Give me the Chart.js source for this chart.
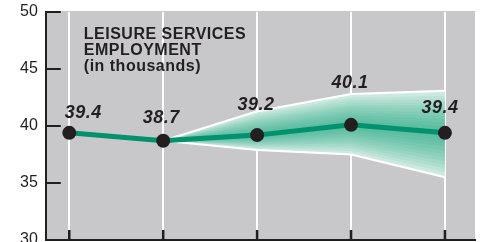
<!DOCTYPE html>
<html><head><meta charset="utf-8">
<script src="https://cdn.jsdelivr.net/npm/chart.js@4.4.1/dist/chart.umd.min.js"></script>
<style>html,body{margin:0;padding:0;background:#fff;overflow:hidden;width:484px;height:242px}canvas{display:block;margin-top:-4px}</style>
</head><body>
<canvas id="c" width="484" height="262"></canvas>
<script>
// ---- data ----
const periods = ['P1', 'P2', 'P3', 'P4', 'P5'];
const employment = [39.4, 38.7, 39.2, 40.1, 39.4];
const fanUpper = [null, 38.7, 41.3, 42.8, 43.1];
const fanLower = [null, 38.7, 37.9, 37.5, 35.5];
const yTicks = [30, 35, 40, 45, 50];
const titleLines = ['LEISURE SERVICES', 'EMPLOYMENT', '(in thousands)'];
// label placement (style)
const labelDx = [14, -2, -1, -1, -5];
const labelDy = [-15, -18, -25, -37, -20];

const INK = '#231f20';
const FONT = '"Liberation Sans", Arial, Helvetica, sans-serif';
Chart.defaults.font.family = FONT;

const toPts = arr => arr.map((v, i) => ({x: i, y: v})).filter(p => p.y !== null);

const decor = {
  id: 'decor',
  beforeDraw(chart) {
    const {ctx, chartArea: a} = chart;
    ctx.save();
    ctx.fillStyle = '#c8c8ca';
    ctx.fillRect(a.left, a.top - 1, a.right - a.left, a.bottom - a.top + 1);
    ctx.restore();
  },
  beforeDatasetsDraw(chart) {
    const {ctx, chartArea: a} = chart;
    const xs = chart.scales.x, ys = chart.scales.y;
    const idx = fanUpper.map((v, i) => v === null ? -1 : i).filter(i => i >= 0);
    const N = 12;
    ctx.save();
    ctx.beginPath(); ctx.rect(a.left, a.top, a.right - a.left, a.bottom - a.top); ctx.clip();
    for (let k = 1; k <= N; k++) {
      const t = (k / N) * 0.96;
      ctx.beginPath();
      idx.forEach((i, j) => {
        const x = xs.getPixelForValue(i), yc = ys.getPixelForValue(employment[i]);
        const y = yc + t * (ys.getPixelForValue(fanUpper[i]) - yc);
        j ? ctx.lineTo(x, y) : ctx.moveTo(x, y);
      });
      for (let j = idx.length - 1; j >= 0; j--) {
        const i = idx[j];
        const x = xs.getPixelForValue(i), yc = ys.getPixelForValue(employment[i]);
        ctx.lineTo(x, yc + t * (ys.getPixelForValue(fanLower[i]) - yc));
      }
      ctx.closePath();
      ctx.fillStyle = 'rgba(0,150,112,0.07)';
      ctx.fill();
    }
    ctx.restore();
  },
  afterDraw(chart) {
    const {ctx, chartArea: a} = chart;
    const xs = chart.scales.x, ys = chart.scales.y;
    ctx.save();
    ctx.strokeStyle = INK;
    ctx.lineWidth = 2;
    yTicks.forEach(v => {
      if (v === yTicks[0]) return;
      const y = Math.round(ys.getPixelForValue(v));
      ctx.beginPath(); ctx.moveTo(a.left, y); ctx.lineTo(a.left + 15, y); ctx.stroke();
    });
    ctx.lineWidth = 2.5;
    periods.forEach((_, i) => {
      const x = xs.getPixelForValue(i);
      ctx.beginPath(); ctx.moveTo(x, a.bottom - 10); ctx.lineTo(x, a.bottom); ctx.stroke();
    });
    // title
    ctx.fillStyle = INK;
    ctx.textAlign = 'left';
    ctx.textBaseline = 'alphabetic';
    ctx.font = 'bold 16px ' + FONT;
    try { ctx.letterSpacing = '0.5px'; } catch (e) {}
    const tb = [27, 43, 58.5];
    titleLines.forEach((s, i) => ctx.fillText(s, a.left + 38, a.top + tb[i]));
    // value labels
    ctx.font = 'italic bold 18px ' + FONT;
    ctx.textAlign = 'center';
    const meta = chart.getDatasetMeta(0);
    meta.data.forEach((el, i) => {
      ctx.fillText(employment[i].toFixed(1), el.x + labelDx[i], el.y + labelDy[i]);
    });
    ctx.restore();
  }
};

new Chart(document.getElementById('c'), {
  type: 'line',
  data: {
    datasets: [
      {data: toPts(employment), borderColor: '#00926f', borderWidth: 5, pointRadius: 7,
       pointBackgroundColor: INK, pointBorderWidth: 0, fill: false, tension: 0},
      {data: toPts(fanUpper), borderColor: '#ffffff', borderWidth: 2, pointRadius: 0,
       fill: '+1', backgroundColor: '#dcefe8', tension: 0},
      {data: toPts(fanLower), borderColor: '#ffffff', borderWidth: 2, pointRadius: 0,
       fill: false, tension: 0}
    ]
  },
  options: {
    responsive: false,
    animation: false,
    events: [],
    layout: {padding: {left: 12, right: 9, top: 0, bottom: 18}},
    plugins: {legend: {display: false}, tooltip: {enabled: false}, filler: {drawTime: 'beforeDatasetsDraw'}},
    scales: {
      x: {type: 'linear', min: -0.25, max: 4.32,
          afterBuildTicks: s => { s.ticks = periods.map((_, i) => ({value: i})); },
          ticks: {display: false},
          grid: {color: '#ffffff', lineWidth: 2, drawTicks: false},
          border: {display: true, color: INK, width: 2}},
      y: {min: 30, max: 50,
          afterBuildTicks: s => { s.ticks = yTicks.map(v => ({value: v})); },
          ticks: {color: INK, font: {size: 16, lineHeight: 1}, padding: 8},
          grid: {display: false, drawTicks: false},
          border: {display: true, color: INK, width: 2}}
    }
  },
  plugins: [decor]
});
</script>
</body></html>
